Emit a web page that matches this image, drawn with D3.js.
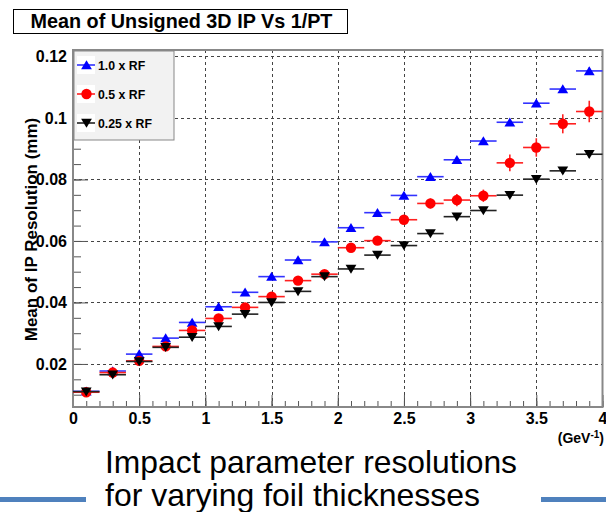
<!DOCTYPE html>
<html><head><meta charset="utf-8">
<script src="https://cdn.jsdelivr.net/npm/d3@7"></script>
<style>body{margin:0;background:#fff;} svg{display:block;}</style>
</head><body>
<script>
const binCenters = [0.1,0.3,0.5,0.7,0.9,1.1,1.3,1.5,1.7,1.9,2.1,2.3,2.5,2.7,2.9,3.1,3.3,3.5,3.7,3.9];
const rf10  = [0.0111,0.0177,0.0232,0.0284,0.0335,0.0386,0.0433,0.0484,0.0538,0.0597,0.0643,0.0692,0.0748,0.0809,0.0864,0.0925,0.0986,0.1048,0.1094,0.1153];
const rf05  = [0.0108,0.0172,0.0210,0.0257,0.0309,0.0348,0.0384,0.0419,0.0471,0.0492,0.0578,0.0601,0.0669,0.0722,0.0733,0.0747,0.0854,0.0904,0.0981,0.1021];
const rf025 = [0.0110,0.0165,0.0208,0.0254,0.0287,0.0322,0.0362,0.0400,0.0436,0.0484,0.0509,0.0554,0.0585,0.0624,0.0679,0.0699,0.0749,0.0801,0.0828,0.0882];
const err10  = [0.0003,0.0003,0.0003,0.0003,0.0004,0.0004,0.0004,0.0005,0.0005,0.0005,0.0006,0.0006,0.0007,0.0007,0.0008,0.0008,0.0009,0.0010,0.0010,0.0011];
const err05  = [0.0006,0.0006,0.0006,0.0007,0.0007,0.0008,0.0008,0.0009,0.0009,0.0009,0.0010,0.0012,0.0013,0.0016,0.0020,0.0020,0.0027,0.0030,0.0031,0.0035];
const err025 = [0.0003,0.0003,0.0003,0.0003,0.0004,0.0004,0.0004,0.0005,0.0005,0.0005,0.0006,0.0006,0.0007,0.0007,0.0008,0.0008,0.0009,0.0010,0.0010,0.0011];
const seriesNames = ["1.0 x RF","0.5 x RF","0.25 x RF"];
const xTicks = [0,0.5,1,1.5,2,2.5,3,3.5,4];
const yTicks = [0.02,0.04,0.06,0.08,0.1,0.12];
const binHalfWidth = 0.1;

const W=606,H=512;
const svg=d3.select("body").append("svg").attr("width",W).attr("height",H);
const font='"Liberation Sans", Arial, Helvetica, sans-serif';
const L=73,R=602.5,T=50,B=407;
const x=d3.scaleLinear().domain([0,4]).range([L,R]);
const y=d3.scaleLinear().domain([0.006,0.1221]).range([B,T]);

// title box
svg.append("rect").attr("x",13.5).attr("y",9.5).attr("width",334).attr("height",24)
  .attr("fill","#fff").attr("stroke","#000").attr("stroke-width",1);
svg.append("text").attr("x",181.5).attr("y",28).attr("text-anchor","middle")
  .attr("font-family",font).attr("font-weight","bold").attr("font-size",19.8)
  .text("Mean of Unsigned 3D IP Vs 1/PT");

// grid
const grid=svg.append("g").attr("stroke","#444").attr("stroke-width",1).attr("stroke-dasharray","3,3");
grid.selectAll(".gx").data(xTicks.filter(d=>d>0&&d<4)).join("line")
  .attr("x1",d=>Math.round(x(d))+0.5).attr("x2",d=>Math.round(x(d))+0.5).attr("y1",T).attr("y2",B);
grid.selectAll(".gy").data(yTicks).join("line")
  .attr("y1",d=>Math.round(y(d))+0.5).attr("y2",d=>Math.round(y(d))+0.5).attr("x1",L).attr("x2",R);

// axes
const axFont=g=>g.selectAll("text").attr("font-family",font).attr("font-weight","bold").attr("font-size",16).attr("fill","#000");
const xMinor=d3.range(0,4.0001,0.1).map(d=>+d.toFixed(2));
svg.append("g").attr("transform",`translate(0,${B})`)
  .call(d3.axisBottom(x).tickValues(xMinor).tickSize(-6).tickFormat(""))
  .call(g=>g.select(".domain").remove()).selectAll("line").attr("stroke","#555");
svg.append("g").attr("transform",`translate(0,${B})`)
  .call(d3.axisBottom(x).tickValues(xTicks).tickSize(-12).tickPadding(6).tickFormat(d=>d3.format("")(d)))
  .call(g=>g.select(".domain").remove()).call(axFont)
  .call(g=>g.selectAll("line").attr("stroke","#555"));
const yMinor=d3.range(0.01,0.1201,0.005).map(d=>+d.toFixed(3));
svg.append("g").attr("transform",`translate(${L},0)`)
  .call(d3.axisLeft(y).tickValues(yMinor).tickSize(-8).tickFormat(""))
  .call(g=>g.select(".domain").remove()).selectAll("line").attr("stroke","#555");
svg.append("g").attr("transform",`translate(${L},0)`)
  .call(d3.axisLeft(y).tickValues(yTicks).tickSize(-15).tickPadding(6).tickFormat(d=>d3.format("")(d)))
  .call(g=>g.select(".domain").remove()).call(axFont)
  .call(g=>g.selectAll("line").attr("stroke","#555"));

// frame
svg.append("rect").attr("x",L).attr("y",T).attr("width",R-L).attr("height",B-T)
  .attr("fill","none").attr("stroke","#888").attr("stroke-width",2);

// data
const series=[
 {vals:rf10, errs:err10, color:"#0000ff", hcol:"#3333ff", shape:"up"},
 {vals:rf05, errs:err05, color:"#ff0000", hcol:"#ff2020", shape:"circle"},
 {vals:rf025, errs:err025, color:"#000000", hcol:"#222", shape:"down"}
];
function marker(g,shape,color,cx,cy){
  if(shape==="circle") g.append("circle").attr("cx",cx).attr("cy",cy).attr("r",5.2).attr("fill",color);
  else {
    const s=5.4, h=8.5;
    const pts = shape==="up" ? [[cx,cy-h/2-0.5],[cx-s,cy+h/2],[cx+s,cy+h/2]] : [[cx,cy+h/2+0.5],[cx-s,cy-h/2],[cx+s,cy-h/2]];
    g.append("path").attr("d","M"+pts.map(p=>p.join(",")).join("L")+"Z").attr("fill",color);
  }
}
series.forEach(s=>{
  const g=svg.append("g");
  binCenters.forEach((c,i)=>{
    const v=s.vals[i], e=s.errs[i];
    g.append("line").attr("x1",x(c-binHalfWidth)).attr("x2",x(c+binHalfWidth)).attr("y1",y(v)).attr("y2",y(v))
      .attr("stroke",s.hcol).attr("stroke-width",1.6);
    g.append("line").attr("x1",x(c)).attr("x2",x(c)).attr("y1",y(v-e)).attr("y2",y(v+e))
      .attr("stroke",s.hcol).attr("stroke-width",1.6);
  });
  binCenters.forEach((c,i)=>marker(g,s.shape,s.color,x(c),y(s.vals[i])));
});

// legend
const lg=svg.append("g");
lg.append("rect").attr("x",74).attr("y",51).attr("width",100).attr("height",89)
  .attr("fill","#f2f2f2").attr("stroke","#888").attr("stroke-width",1);
const legY=[65,94,123];
series.forEach((s,i)=>{
  lg.append("rect").attr("x",77).attr("y",legY[i]-9).attr("width",18).attr("height",18).attr("fill","#fff");
  lg.append("line").attr("x1",77).attr("x2",95).attr("y1",legY[i]).attr("y2",legY[i]).attr("stroke",s.hcol).attr("stroke-width",1.6);
  marker(lg,s.shape,s.color,86.5,legY[i]);
  lg.append("text").attr("x",98).attr("y",legY[i]+4.5).attr("font-family",font).attr("font-weight","bold")
    .attr("font-size",12.3).text(seriesNames[i]);
});

// y title
svg.append("text").attr("transform","translate(36.5,229.5) rotate(-90)").attr("text-anchor","middle")
  .attr("font-family",font).attr("font-weight","bold").attr("font-size",17)
  .text("Mean of IP Resolution (mm)");

// x title
const xt=svg.append("text").attr("x",604).attr("y",443).attr("text-anchor","end")
  .attr("font-family",font).attr("font-weight","bold").attr("font-size",14);
xt.append("tspan").text("(GeV");
xt.append("tspan").attr("dy",-5.5).attr("font-size",10).text("-1");
xt.append("tspan").attr("dy",5.5).text(")");

// caption
svg.append("line").attr("x1",0).attr("x2",86).attr("y1",499.5).attr("y2",499.5).attr("stroke","#4f81bd").attr("stroke-width",5);
svg.append("line").attr("x1",541).attr("x2",606).attr("y1",499.5).attr("y2",499.5).attr("stroke","#4f81bd").attr("stroke-width",5);
svg.append("text").attr("x",105).attr("y",473).attr("font-family",font).attr("font-size",32)
  .attr("textLength",412).attr("lengthAdjust","spacingAndGlyphs").text("Impact parameter resolutions");
svg.append("text").attr("x",105).attr("y",506).attr("font-family",font).attr("font-size",32)
  .attr("textLength",375).attr("lengthAdjust","spacingAndGlyphs").text("for varying foil thicknesses");
</script>
</body></html>
